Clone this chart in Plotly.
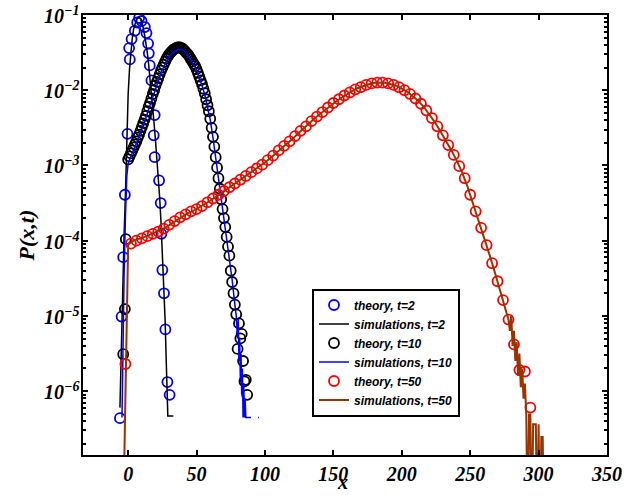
import numpy as np
import plotly.graph_objects as go

# ---------------- data (log10 of P) ----------------
theory2_x = [-6.0, -4.8, -3.6, -2.4, -0.5, 0.7, 1.2, 2.5, 4.9, 6.6, 8.0, 9.8, 12.2, 13.4, 14.6,
             15.1, 15.8, 17.0, 19.4, 18.7, 19.4, 22.6, 23.8, 24.3, 25.0, 26.2, 27.2, 28.7, 30.3]
theory2_log10P = [-6.36, -5.01, -4.22, -3.39, -2.58, -1.44, -1.59, -1.32, -1.21, -1.10, -1.04, -1.08,
                  -1.16, -1.24, -1.38, -1.51, -1.67, -1.87, -2.33, -2.60, -2.89, -3.20, -3.50, -3.91,
                  -4.39, -4.70, -5.18, -5.88, -6.05]

sim2_x = list(range(-6, 34))
sim2_log10P = [-6.22, -5.30, -4.55, -3.95, -3.40, -2.50, -2.05, -1.72, -1.48, -1.31,
               -1.19, -1.11, -1.06, -1.04, -1.03, -1.05, -1.10, -1.17, -1.26, -1.37,
               -1.50, -1.66, -1.84, -2.03, -2.24, -2.45, -2.67, -2.90, -3.15, -3.42,
               -3.75, -4.13, -4.55, -5.05, -5.70, -6.33, -6.33, -6.33, -6.33, -6.33]

theory10_x = [-3.6, -2.4, -1.7] + list(range(0, 88))
theory10_log10P = [-5.51, -4.91, -3.98,
                   -2.92, -2.88, -2.84, -2.80, -2.76, -2.72, -2.68, -2.63, -2.59, -2.54,
                   -2.49, -2.44, -2.39, -2.34, -2.28, -2.22, -2.17, -2.11, -2.05, -2.00,
                   -1.94, -1.89, -1.84, -1.79, -1.74, -1.70, -1.66, -1.62, -1.58, -1.55,
                   -1.52, -1.50, -1.48, -1.46, -1.45, -1.44, -1.43, -1.43, -1.43, -1.44,
                   -1.45, -1.47, -1.49, -1.51, -1.53, -1.56, -1.59, -1.62, -1.65, -1.68,
                   -1.72, -1.77, -1.82, -1.87, -1.92, -1.98, -2.04, -2.12, -2.20, -2.28,
                   -2.38, -2.50, -2.62, -2.75, -2.89, -3.03, -3.17, -3.31, -3.45, -3.58,
                   -3.70, -3.82, -3.95, -4.08, -4.20, -4.40, -4.55, -4.70, -4.85, -4.98,
                   -5.44, -5.10, -5.30, -5.24, -5.60, -5.87, -5.85, -6.05]

sim10_x = ([-4.5, -4, -3, -2, -1, 0] + list(range(2, 80, 2)) +
           [79, 80, 80.5, 81, 81.5, 82, 82.5, 83, 83.5, 84, 84.5, 85, 85.5, 86, 87, 88, 89, 89.8,
            np.nan, 95, 95.6])
sim10_log10P = [-6.35, -5.40, -4.50, -3.70, -3.15, -2.97,
                -2.87, -2.79, -2.71, -2.62, -2.52, -2.42, -2.31, -2.20, -2.08, -1.97,
                -1.87, -1.77, -1.69, -1.61, -1.55, -1.51, -1.48, -1.46, -1.46, -1.47,
                -1.50, -1.55, -1.60, -1.66, -1.73, -1.83, -1.94, -2.06, -2.21, -2.39,
                -2.63, -2.90, -3.18, -3.46, -3.71, -3.96, -4.21, -4.52, -4.85,
                -5.00, -5.30, -5.05, -5.60, -5.30, -5.85, -5.50, -6.05, -5.70, -6.35,
                -5.90, -6.35, -6.10, -6.35, -6.35, -6.35, -6.35, -6.35,
                np.nan, -6.35, -6.35]

theory50_x = [-2] + list(range(2, 295, 4))
theory50_log10P = [-5.64,
                   -4.04, -4.00, -3.97, -3.94, -3.91, -3.88, -3.84, -3.79, -3.74, -3.69,
                   -3.65, -3.61, -3.58, -3.54, -3.49, -3.44, -3.39, -3.34, -3.29, -3.24,
                   -3.19, -3.14, -3.09, -3.04, -2.99, -2.93, -2.87, -2.80, -2.74, -2.68,
                   -2.61, -2.54, -2.48, -2.41, -2.35, -2.29, -2.23, -2.17, -2.12, -2.07,
                   -2.03, -1.99, -1.96, -1.93, -1.91, -1.90, -1.90, -1.91, -1.93, -1.96,
                   -2.00, -2.05, -2.11, -2.18, -2.27, -2.37, -2.48, -2.60, -2.73, -2.86,
                   -3.01, -3.17, -3.39, -3.61, -3.83, -4.06, -4.30, -4.54, -4.79, -5.05,
                   -5.38, -5.72, -5.74, -6.22]

sim50_x = ([-3.1, 0.0] + list(range(4, 280, 4)) +
           [278, 279, 280, 281, 282, 283, 284, 285, 286, 287, 288, 289, 290, 291, 292,
            293, 294, 295, 296, 297, 298, 299, 300, 301, 302, 303, 304])
sim50_log10P = [-7.2, -4.05,
                -4.00, -3.98, -3.95, -3.92, -3.89, -3.86, -3.82, -3.77, -3.72, -3.67,
                -3.63, -3.60, -3.56, -3.52, -3.47, -3.42, -3.37, -3.32, -3.27, -3.22,
                -3.17, -3.12, -3.07, -3.02, -2.96, -2.90, -2.84, -2.77, -2.71, -2.65,
                -2.58, -2.51, -2.45, -2.38, -2.32, -2.26, -2.20, -2.15, -2.10, -2.05,
                -2.01, -1.97, -1.94, -1.92, -1.90, -1.90, -1.90, -1.92, -1.94, -1.98,
                -2.02, -2.08, -2.14, -2.22, -2.32, -2.42, -2.54, -2.66, -2.79, -2.93,
                -3.09, -3.28, -3.50, -3.72, -3.94, -4.18, -4.42, -4.66, -4.92,
                -5.05, -5.20, -5.00, -5.40, -5.20, -5.60, -5.35, -5.80, -5.50, -5.95,
                -5.70, -6.10, -5.90, -6.31, -8.00, -6.31, -6.31, -8.00, -6.44, -6.44,
                -6.44, -8.00, -6.44, -8.00, -6.61, -6.61, -8.00]

x_tick_vals = [0, 50, 100, 150, 200, 250, 300, 350]
y_tick_exponents = [-6, -5, -4, -3, -2, -1]
y_tick_text = ["10<sup>−6</sup>", "10<sup>−5</sup>", "10<sup>−4</sup>",
               "10<sup>−3</sup>", "10<sup>−2</sup>", "10<sup>−1</sup>"]
y_minor_vals = [m * 10.0 ** e for e in range(-7, -1) for m in range(2, 10)]
x_title = "x"
y_title = "P(x,t)"

BLUE, BLACK, RED, BROWN = "#0000ff", "#000000", "#ff0000", "#993300"


def P(v):
    return np.power(10.0, np.array(v, dtype=float))


fig = go.Figure()
mk = dict(symbol="circle-open", size=10, line=dict(width=1.8))
fig.add_trace(go.Scatter(x=theory2_x, y=P(theory2_log10P), mode="markers", name="theory, t=2",
                         marker=dict(color=BLUE, **mk)))
fig.add_trace(go.Scatter(x=sim2_x, y=P(sim2_log10P), mode="lines", name="simulations, t=2",
                         line=dict(color=BLACK, width=1.5)))
fig.add_trace(go.Scatter(x=theory10_x, y=P(theory10_log10P), mode="markers", name="theory, t=10",
                         marker=dict(color=BLACK, **mk)))
fig.add_trace(go.Scatter(x=sim10_x, y=P(sim10_log10P), mode="lines", name="simulations, t=10",
                         line=dict(color=BLUE, width=1.5)))
fig.add_trace(go.Scatter(x=theory50_x, y=P(theory50_log10P), mode="markers", name="theory, t=50",
                         marker=dict(color=RED, **mk)))
fig.add_trace(go.Scatter(x=sim50_x, y=P(sim50_log10P), mode="lines", name="simulations, t=50",
                         line=dict(color=BROWN, width=2)))

tickfont = dict(family="Liberation Serif", size=20, color="black", weight="bold", style="italic")
xtitlefont = dict(family="Liberation Serif", size=20, color="black", weight="bold", style="italic")
ytitlefont = dict(family="Liberation Serif", size=22, color="black", weight="bold", style="italic")

# y tick labels as annotations placed next to the axis (log axis: y in log10 units)
annotations = [
    dict(text=t, xref="paper", yref="y", x=-0.006, y=e, xanchor="right", yanchor="middle",
         showarrow=False, font=tickfont, borderpad=0)
    for e, t in zip(y_tick_exponents, y_tick_text)
]
annotations += [
    dict(text=x_title, xref="paper", yref="paper", x=0.496, y=-0.0909,
         xanchor="center", yanchor="bottom", showarrow=False, font=xtitlefont),
    dict(text=y_title, xref="paper", yref="paper", x=-0.108, y=0.5,
         xanchor="center", yanchor="middle", textangle=-90, showarrow=False,
         font=ytitlefont),
]

fig.update_layout(
    width=634, height=495,
    margin=dict(l=83, r=27, t=15, b=40, autoexpand=False),
    paper_bgcolor="white", plot_bgcolor="white",
    legend=dict(x=0.437, y=0.3784, xanchor="left", yanchor="top",
                bordercolor="black", borderwidth=2, bgcolor="white",
                font=dict(family="Liberation Sans", size=12, color="black",
                          weight="bold", style="italic"),
                tracegroupgap=0),
    annotations=annotations,
)
fig.update_xaxes(range=[-33, 350], tickvals=x_tick_vals, ticks="inside", ticklen=5,
                 tickwidth=1.5, tickcolor="black", showline=True, linewidth=2,
                 linecolor="black", mirror="ticks", showgrid=False, zeroline=False,
                 automargin=False, tickfont=tickfont)
fig.update_yaxes(type="log", range=[-6.85, -1], tickvals=[10.0 ** e for e in y_tick_exponents],
                 showticklabels=False,
                 ticks="inside", ticklen=5, tickwidth=1.5, tickcolor="black",
                 showline=True, linewidth=2, linecolor="black", mirror="ticks",
                 showgrid=False, zeroline=False, automargin=False,
                 minor=dict(tickvals=y_minor_vals, ticks="inside", ticklen=3,
                            tickcolor="black", showgrid=False))

fig.write_html("out.html")
